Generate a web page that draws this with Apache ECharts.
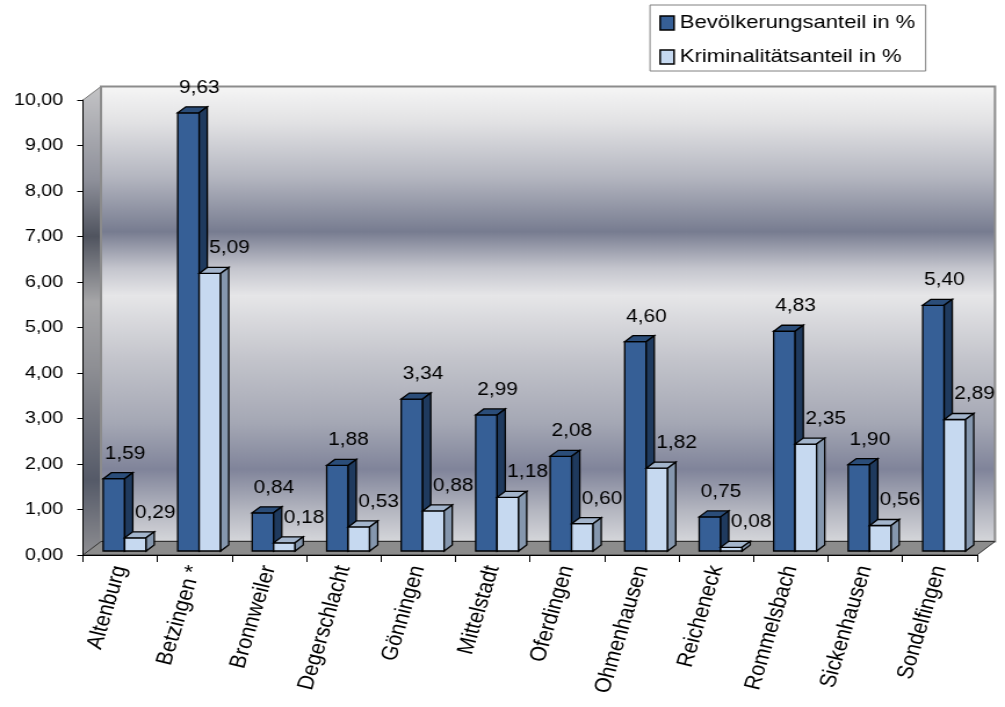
<!DOCTYPE html>
<html>
<head>
<meta charset="utf-8" />
<title>Bevölkerungs- und Kriminalitätsanteil</title>
<script src="https://cdn.jsdelivr.net/npm/echarts@6/dist/echarts.min.js"></script>
<style>
    * { margin: 0; padding: 0; }
    html, body { width: 100%; height: 100%; background: #fff; overflow: hidden; }
    /* Vorlage ist waagerecht gestreckt -> schmal zeichnen und per scaleX breit ziehen */
    #chart { width: 866px; height: 707px; transform: scaleX(1.16051); transform-origin: 0 0; }
</style>
</head>
<body>
<div id="chart"></div>
<script type="text/javascript">

    var orte = ['Altenburg', 'Betzingen *', 'Bronnweiler', 'Degerschlacht', 'Gönningen', 'Mittelstadt',
        'Oferdingen', 'Ohmenhausen', 'Reicheneck', 'Rommelsbach', 'Sickenhausen', 'Sondelfingen'];
    var bevWerte = [1.59, 9.63, 0.84, 1.88, 3.34, 2.99, 2.08, 4.60, 0.75, 4.83, 1.90, 5.40];
    var krimWerte = [0.29, 6.10, 0.18, 0.53, 0.88, 1.18, 0.60, 1.82, 0.08, 2.35, 0.56, 2.89];
    // Beschriftung wie im Original (Betzingen steht dort mit 5,09)
    var bevTexte = ['1,59', '9,63', '0,84', '1,88', '3,34', '2,99', '2,08', '4,60', '0,75', '4,83', '1,90', '5,40'];
    var krimTexte = ['0,29', '5,09', '0,18', '0,53', '0,88', '1,18', '0,60', '1,82', '0,08', '2,35', '0,56', '2,89'];
    var serienNamen = ['Bevölkerungsanteil in %', 'Kriminalitätsanteil in %'];

    var S = 1005 / 866;
    var GL = 83 / S, GR = 977 / S;
    var TOP = 100, BOT = 555;
    var WX = 18 / S, WY = 13.5;
    var schrift = '"Liberation Sans", Arial, sans-serif';

    var farben = [
        { front: '#365f96', top: '#2b4d79', side: '#1f3a5e' },
        { front: '#c6d9f0', top: '#a3b5cc', side: '#8597ae' }
    ];
    var texte = [bevTexte, krimTexte];

    function balken(s) {
        return function (params, api) {
            var i = api.value(0), v = api.value(1);
            var band = api.size([1, 0])[0];
            var oben = api.coord([i, v]), unten = api.coord([i, 0]);
            var w = band * 0.288;
            var x0 = oben[0] - band * 0.229 + s * w;
            var yT = oben[1] - 4, yB = unten[1] - 4;
            var dx = 7, dy = 6;
            var f = farben[s];
            var linie = { stroke: '#000', lineWidth: 1.3 };
            return {
                type: 'group',
                children: [
                    { type: 'rect', shape: { x: x0, y: yT, width: w, height: yB - yT },
                        style: Object.assign({ fill: f.front }, linie) },
                    { type: 'polygon', shape: { points: [[x0, yT], [x0 + dx, yT - dy], [x0 + w + dx, yT - dy], [x0 + w, yT]] },
                        style: Object.assign({ fill: f.top }, linie) },
                    { type: 'polygon', shape: { points: [[x0 + w, yT], [x0 + w + dx, yT - dy], [x0 + w + dx, yB - dy], [x0 + w, yB]] },
                        style: Object.assign({ fill: f.side }, linie) },
                    { type: 'text', x: x0 + w / 2 + (s ? 17 : 9.5), y: yT - 25, z2: 10,
                        style: { text: texte[s][params.dataIndex], fill: '#000', font: '18px ' + schrift,
                            align: 'center', verticalAlign: 'middle' } }
                ]
            };
        };
    }

    function paare(werte) {
        return werte.map(function (v, i) { return [i, v]; });
    }

    var rueckwand = new echarts.graphic.LinearGradient(0, 0, 0, 1, [
        { offset: 0, color: '#f6f6f6' },
        { offset: 0.08, color: '#e2e2e4' },
        { offset: 0.2, color: '#b4b6c0' },
        { offset: 0.32, color: '#777c90' },
        { offset: 0.4, color: '#c4c5cd' },
        { offset: 0.46, color: '#e6e6e8' },
        { offset: 0.6, color: '#c3c4cb' },
        { offset: 0.74, color: '#a4a7b4' },
        { offset: 0.84, color: '#80849a' },
        { offset: 0.93, color: '#b4b6c0' },
        { offset: 1, color: '#d6d7db' }
    ]);
    var seitenwand = new echarts.graphic.LinearGradient(0, 0, 0, 1, [
        { offset: 0, color: '#c4c4c6' },
        { offset: 0.2, color: '#8e909a' },
        { offset: 0.32, color: '#50545f' },
        { offset: 0.46, color: '#a6a6a8' },
        { offset: 0.6, color: '#8e8f94' },
        { offset: 0.84, color: '#555a68' },
        { offset: 1, color: '#8e8e92' }
    ]);

    var myChart = echarts.init(document.getElementById('chart'));
    var option = {
        animation: false,
        backgroundColor: '#fff',
        grid: { left: GL, right: 866 - GR, top: TOP, bottom: 707 - BOT },
        graphic: [
            { type: 'polygon', z: -1, silent: true,
                shape: { points: [[GL, TOP], [GL + WX, TOP - WY], [GL + WX, BOT - WY], [GL, BOT]] },
                style: { fill: seitenwand, stroke: '#7a7a7a', lineWidth: 1 } },
            { type: 'rect', z: -1, silent: true,
                shape: { x: GL + WX, y: TOP - WY, width: GR - GL, height: BOT - TOP },
                style: { fill: rueckwand, stroke: '#8c8c8c', lineWidth: 2 } },
            { type: 'polygon', z: -1, silent: true,
                shape: { points: [[GL, BOT], [GL + WX, BOT - WY], [GR + WX, BOT - WY], [GR, BOT]] },
                style: { fill: '#8c8c8c', stroke: '#333', lineWidth: 1 } }
        ],
        legend: {
            orient: 'vertical',
            left: 650 / S,
            top: 5,
            backgroundColor: '#fff',
            borderColor: '#808080',
            borderWidth: 1,
            padding: [8, 9, 4, 8],
            itemWidth: 12,
            itemHeight: 14,
            itemGap: 14,
            icon: 'rect',
            selectedMode: false,
            textStyle: { fontSize: 19, lineHeight: 20, color: '#000', fontFamily: schrift },
            data: [
                { name: serienNamen[0], itemStyle: { color: farben[0].front, borderColor: '#000', borderWidth: 1.5 } },
                { name: serienNamen[1], itemStyle: { color: farben[1].front, borderColor: '#000', borderWidth: 1.5 } }
            ]
        },
        xAxis: {
            type: 'category',
            data: orte,
            axisLine: { lineStyle: { color: '#000', width: 1 } },
            axisTick: { show: true, interval: 0, length: 7, lineStyle: { color: '#000' } },
            axisLabel: { interval: 0, rotate: 75, margin: 11, fontSize: 20, color: '#000', fontFamily: schrift }
        },
        yAxis: {
            type: 'value',
            min: 0,
            max: 10,
            interval: 1,
            axisLine: { show: true, lineStyle: { color: '#000', width: 1 } },
            axisTick: { show: true, length: 5, lineStyle: { color: '#000' } },
            splitLine: { show: false },
            axisLabel: {
                margin: 17, fontSize: 17, color: '#000', fontFamily: schrift,
                formatter: function (v) { return v.toFixed(2).replace('.', ','); }
            }
        },
        series: [
            { name: serienNamen[0], type: 'custom', renderItem: balken(0), data: paare(bevWerte),
                encode: { x: 0, y: 1 }, itemStyle: { color: farben[0].front } },
            { name: serienNamen[1], type: 'custom', renderItem: balken(1), data: paare(krimWerte),
                encode: { x: 0, y: 1 }, itemStyle: { color: farben[1].front } }
        ]
    };
    myChart.setOption(option);

</script>
</body>
</html>
